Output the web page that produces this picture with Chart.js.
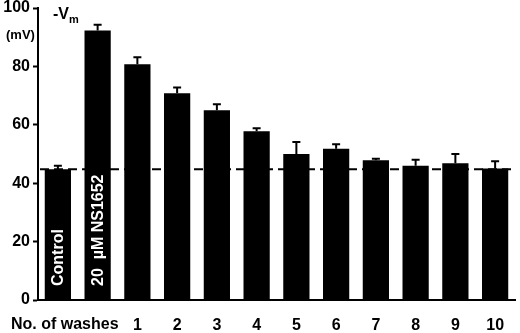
<!DOCTYPE html>
<html>
<head>
<meta charset="utf-8">
<script src="https://cdn.jsdelivr.net/npm/chart.js@4/dist/chart.umd.min.js"></script>
<style>
  html, body { margin: 0; padding: 0; background: #fff; }
  canvas { display: block; }
</style>
</head>
<body>
<canvas id="vmChart" width="520" height="333"></canvas>
<script>
// categories: control, drug, then wash numbers
const categories = ['Control', '20  \u00b5M NS1652', '1', '2', '3', '4', '5', '6', '7', '8', '9', '10'];
const tickLabels = ['', '', '1', '2', '3', '4', '5', '6', '7', '8', '9', '10'];
const vmValues = [44.8, 92.3, 80.7, 70.8, 65.0, 57.8, 50.0, 51.8, 47.9, 46.0, 46.8, 45.0];
const vmErrors = [1.2, 2.0, 2.4, 2.0, 2.0, 1.0, 4.1, 1.5, 0.5, 2.0, 3.2, 2.5];
const controlLevel = 44.8;
const yTicks = [0, 20, 40, 60, 80, 100];

const FONT = '"Liberation Sans", Arial, sans-serif';

const extras = {
  id: 'extras',
  afterDatasetsDraw(chart) {
    const c = chart.ctx;
    const y = chart.scales.y;
    const area = chart.chartArea;
    const meta = chart.getDatasetMeta(0);

    // dashed control line
    c.save();
    c.strokeStyle = '#000';
    c.lineWidth = 2;
    c.setLineDash([9, 5]);
    c.beginPath();
    c.moveTo(area.left + 2, y.getPixelForValue(controlLevel));
    c.lineTo(area.right, y.getPixelForValue(controlLevel));
    c.stroke();
    c.restore();

    // upper error bars
    c.save();
    c.strokeStyle = '#000';
    c.lineWidth = 2;
    meta.data.forEach((bar, i) => {
      const top = y.getPixelForValue(vmValues[i] + vmErrors[i]);
      const base = y.getPixelForValue(vmValues[i]);
      c.beginPath();
      c.moveTo(bar.x, base);
      c.lineTo(bar.x, top);
      c.moveTo(bar.x - 4, top);
      c.lineTo(bar.x + 4, top);
      c.stroke();
    });
    c.restore();

    // labels inside first two bars
    c.save();
    c.fillStyle = '#fff';
    c.font = 'bold 16px ' + FONT;
    c.textAlign = 'left';
    c.textBaseline = 'middle';
    [0, 1].forEach(i => {
      const bar = meta.data[i];
      c.save();
      c.translate(bar.x + 1, y.getPixelForValue(0) - 14);
      c.rotate(-Math.PI / 2);
      c.fillText(categories[i], 0, 0);
      c.restore();
    });
    c.restore();

    // axis title pieces
    c.save();
    c.fillStyle = '#000';
    c.textBaseline = 'middle';
    c.textAlign = 'left';
    c.font = 'bold 16px ' + FONT;
    c.fillText('-V', area.left + 15, 15);
    const w = c.measureText('-V').width;
    c.font = 'bold 11px ' + FONT;
    c.fillText('m', area.left + 15 + w, 20);
    c.font = 'bold 13px ' + FONT;
    c.fillText('(mV)', 6, 35);
    c.font = 'bold 16px ' + FONT;
    c.fillText('No. of washes', 11, 325);
    c.restore();
  }
};

new Chart(document.getElementById('vmChart').getContext('2d'), {
  type: 'bar',
  data: {
    labels: tickLabels,
    datasets: [{
      data: vmValues,
      backgroundColor: '#000',
      borderWidth: 0,
      barPercentage: 0.66,
      categoryPercentage: 1.0
    }]
  },
  options: {
    responsive: false,
    animation: false,
    layout: { padding: { top: 8, right: 5, left: 0, bottom: 0 } },
    plugins: { legend: { display: false }, tooltip: { enabled: false } },
    scales: {
      x: {
        grid: { display: true, drawOnChartArea: false, drawTicks: false },
        border: { display: true, color: '#000', width: 2 },
        ticks: {
          color: '#000',
          font: { family: FONT, size: 16, weight: 'bold' },
          padding: 16,
          maxRotation: 0,
          autoSkip: false
        },
        afterFit(s) { s.height = 33; s.paddingLeft = 0; s.paddingRight = 0; }
      },
      y: {
        min: 0,
        max: 100,
        afterBuildTicks(s) { s.ticks = yTicks.map(v => ({ value: v })); },
        grid: { display: true, drawOnChartArea: false, drawTicks: true, tickLength: 5, tickWidth: 2, tickColor: '#000' },
        border: { display: true, color: '#000', width: 2 },
        ticks: {
          color: '#000',
          font: { family: FONT, size: 16, weight: 'bold' },
          padding: 3
        },
        afterFit(s) { s.width = 38; s.paddingTop = 0; s.paddingBottom = 0; }
      }
    }
  },
  plugins: [extras]
});
</script>
</body>
</html>
